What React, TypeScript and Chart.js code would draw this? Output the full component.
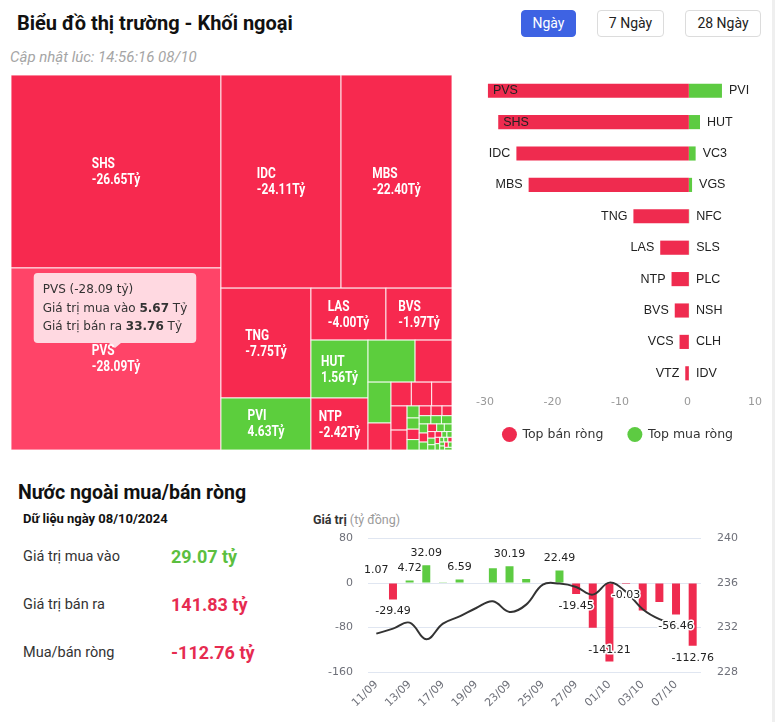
import React, { useEffect, useRef } from 'react';
import { Chart, registerables } from 'chart.js';

Chart.register(...registerables);

// ================= DATA =================
// Treemap: ticker, net value (tỷ), cell size (estimated total traded value, tỷ)
const tmTickers = ['SHS', 'PVS', 'IDC', 'MBS', 'TNG', 'PVI', 'LAS', 'BVS', 'HUT', 'NTP', 'VC3', 'VCS', 'VGS', 'VTZ', '', '', '', '', '',
  '', '', '', '', '', '', '', '', '', '', '', '', '', '', '', '', '', '', '', '', '', '', '', '', '', '', '', '', '', '', '', ''];
const tmNet = [-26.65, -28.09, -24.11, -22.40, -7.75, 4.63, -4.00, -1.97, 1.56, -2.42, 0.95, -1.30, 0.45, -0.55, -0.45, -0.42, -0.40, -0.35, -0.30,
  0.12, 0.10, -0.09, 0.11, -0.10, -0.08, -0.07, 0.08, 0.07, 0.06, 0.06, -0.05, 0.05, -0.05, 0.04, 0.04, -0.03, 0.04, 0.03, -0.03,
  0.02, 0.02, -0.02, 0.02, 0.01, 0.01, -0.01, 0.01, 0.01, -0.01, 0.01, 0.01];
const tmSize = [41.8, 39.43, 26.4, 24.4, 10.2, 4.83, 4.02, 3.54, 3.41, 3.06, 2.04, 1.60, 0.97, 0.64, 0.50, 0.50, 0.50, 0.40, 0.33,
  0.15, 0.14, 0.13, 0.13, 0.12, 0.11, 0.10, 0.10, 0.09, 0.09, 0.08, 0.08, 0.07, 0.07, 0.06, 0.06, 0.05, 0.05, 0.04, 0.04,
  0.03, 0.03, 0.03, 0.03, 0.02, 0.02, 0.02, 0.02, 0.02, 0.02, 0.02, 0.02];
const tmHoverTicker = 'PVS';
const tooltipBuy = 5.67;
const tooltipSell = 33.76;

// Top net sell / net buy
const sellTickers = ['PVS', 'SHS', 'IDC', 'MBS', 'TNG', 'LAS', 'NTP', 'BVS', 'VCS', 'VTZ'];
const sellValues = [-28.09, -26.65, -24.11, -22.40, -7.75, -4.00, -2.42, -1.97, -1.30, -0.50];
const buyTickers = ['PVI', 'HUT', 'VC3', 'VGS', 'NFC', 'SLS', 'PLC', 'NSH', 'CLH', 'IDV'];
const buyValues = [4.63, 1.56, 0.95, 0.45, 0.05, 0.04, 0.03, 0.03, 0.02, 0.02];
const topAxisMin = -30;
const topAxisMax = 10;
const topAxisStep = 10;

// Foreign net flow by day
const dates = ['11/09', '12/09', '13/09', '16/09', '17/09', '18/09', '19/09', '20/09', '23/09', '24/09',
  '25/09', '26/09', '27/09', '30/09', '01/10', '02/10', '03/10', '04/10', '07/10', '08/10'];
const netFlow = [1.07, -29.49, 4.72, 32.09, 1.5, 6.59, 1.2, 26.5, 30.19, 7.2,
  1.0, 22.49, -19.45, -80.4, -141.21, -0.03, -49.2, -34.2, -56.46, -112.76];
const indexLine = [231.45, 231.9, 232.44, 230.94, 232.35, 233.0, 233.76, 234.36, 233.4, 234.06,
  235.86, 235.95, 235.65, 234.96, 236.04, 235.2, 233.64, 232.75, 232.3, null];
const leftTicks = { min: -160, max: 80, step: 80 };
const rightTicks = { min: 228, max: 240, step: 4 };

const statDate = '08/10/2024';
const statBuy = 29.07;
const statSell = 141.83;
const statNet = -112.76;

// ================= STYLE =================
const RED_TM = '#F7294F';
const RED_HOVER = '#FF4468';
const GREEN_TM = '#5CCE3D';
const RED_BAR = '#EF2B4F';
const GREEN_BAR = '#5DCB42';
const UI_FONT = 'Roboto, "Noto Sans", Arial, sans-serif';
const CHART_FONT = '"DejaVu Sans", Verdana, sans-serif';

type Item = { idx: number; area: number };
type Rect = { idx: number; x: number; y: number; w: number; h: number };

function squarify(items: Item[], x0: number, y0: number, w0: number, h0: number): Rect[] {
  const out: Rect[] = [];
  let x = x0, y = y0, w = w0, h = h0;
  const worst = (row: Item[], s: number) => {
    let sum = 0, mx = 0, mn = Infinity;
    for (const r of row) { sum += r.area; mx = Math.max(mx, r.area); mn = Math.min(mn, r.area); }
    const s2 = s * s, sum2 = sum * sum;
    return Math.max((s2 * mx) / sum2, sum2 / (s2 * mn));
  };
  let i = 0;
  while (i < items.length) {
    const s = Math.min(w, h);
    let row = [items[i]];
    let wv = worst(row, s);
    let j = i + 1;
    while (j < items.length) {
      const c = row.concat([items[j]]);
      const cw = worst(c, s);
      if (cw > wv) break;
      row = c; wv = cw; j++;
    }
    const sum = row.reduce((a, r) => a + r.area, 0);
    if (w >= h) {
      const cw = sum / h;
      let cy = y;
      for (const r of row) { const rh = r.area / cw; out.push({ idx: r.idx, x, y: cy, w: cw, h: rh }); cy += rh; }
      x += cw; w -= cw;
    } else {
      const rh = sum / w;
      let cx = x;
      for (const r of row) { const rw = r.area / rh; out.push({ idx: r.idx, x: cx, y, w: rw, h: rh }); cx += rw; }
      y += rh; h -= rh;
    }
    i = j;
  }
  return out;
}

const treemapPlugin = {
  id: 'treemapCells',
  afterDatasetsDraw(chart: any) {
    const { ctx, chartArea: a, scales } = chart;
    const xs = scales.x, ys = scales.y;
    const W = a.right - a.left, H = a.bottom - a.top;
    const total = tmSize.reduce((s, v) => s + v, 0);
    const items = tmSize.map((v, i) => ({ idx: i, area: (v / total) * W * H })).sort((p, q) => q.area - p.area);
    const rects = squarify(items, 0, 0, W, H);
    ctx.save();
    let hover: any = null;
    const SX = 0.85;
    for (const r of rects) {
      const px0 = xs.getPixelForValue(r.x / W), px1 = xs.getPixelForValue((r.x + r.w) / W);
      const py0 = ys.getPixelForValue(r.y / H), py1 = ys.getPixelForValue((r.y + r.h) / H);
      const net = tmNet[r.idx];
      const t = tmTickers[r.idx];
      ctx.fillStyle = net >= 0 ? GREEN_TM : (t === tmHoverTicker ? RED_HOVER : RED_TM);
      ctx.fillRect(px0, py0, px1 - px0, py1 - py0);
      ctx.strokeStyle = 'rgba(255,255,255,0.85)';
      ctx.lineWidth = 1;
      ctx.strokeRect(px0, py0, px1 - px0, py1 - py0);
      const cw = px1 - px0, ch = py1 - py0;
      if (t === tmHoverTicker) hover = { cx: (px0 + px1) / 2, cy: (py0 + py1) / 2 };
      if (cw > 50 && ch > 45 && t) {
        ctx.font = `bold 14px ${UI_FONT}`;
        ctx.fillStyle = '#ffffff';
        ctx.textBaseline = 'middle';
        ctx.textAlign = 'left';
        const v = net.toFixed(2) + 'Tỷ';
        const bw = Math.max(ctx.measureText(t).width, ctx.measureText(v).width) * SX;
        const lx = (px0 + px1) / 2 - bw / 2;
        const cy = (py0 + py1) / 2;
        ctx.save();
        ctx.translate(lx, cy);
        ctx.scale(SX, 1);
        ctx.fillText(t, 0, -7);
        ctx.fillText(v, 0, 9);
        ctx.restore();
      }
    }
    if (hover) {
      const idx = tmTickers.indexOf(tmHoverTicker);
      const fontN = `12px ${CHART_FONT}`;
      const fontB = `bold 12px ${CHART_FONT}`;
      const lines: [string, string, string][] = [
        [`${tmHoverTicker} (${tmNet[idx].toFixed(2)} tỷ)`, '', ''],
        ['Giá trị mua vào ', tooltipBuy.toFixed(2), ' Tỷ'],
        ['Giá trị bán ra ', tooltipSell.toFixed(2), ' Tỷ'],
      ];
      let maxW = 0;
      for (const l of lines) {
        ctx.font = fontN; let w = ctx.measureText(l[0]).width + ctx.measureText(l[2]).width;
        ctx.font = fontB; w += ctx.measureText(l[1]).width;
        maxW = Math.max(maxW, w);
      }
      const tipX = hover.cx - 1, tipY = hover.cy - 11;
      const bw = maxW + 18, bh = 70;
      const bx = tipX - bw / 2, by = tipY - 5 - bh;
      const rr = 4;
      ctx.beginPath();
      ctx.moveTo(bx + rr, by);
      ctx.lineTo(bx + bw - rr, by);
      ctx.quadraticCurveTo(bx + bw, by, bx + bw, by + rr);
      ctx.lineTo(bx + bw, by + bh - rr);
      ctx.quadraticCurveTo(bx + bw, by + bh, bx + bw - rr, by + bh);
      ctx.lineTo(tipX + 6, by + bh);
      ctx.lineTo(tipX, tipY);
      ctx.lineTo(tipX - 6, by + bh);
      ctx.lineTo(bx + rr, by + bh);
      ctx.quadraticCurveTo(bx, by + bh, bx, by + bh - rr);
      ctx.lineTo(bx, by + rr);
      ctx.quadraticCurveTo(bx, by, bx + rr, by);
      ctx.closePath();
      ctx.fillStyle = 'rgba(255,255,255,0.8)';
      ctx.fill();
      ctx.fillStyle = '#333';
      ctx.textBaseline = 'middle';
      ctx.textAlign = 'left';
      const ys2 = [17, 35.5, 53.5];
      lines.forEach((l, k) => {
        let x = bx + 9;
        const y = by + ys2[k];
        ctx.font = fontN; ctx.fillText(l[0], x, y); x += ctx.measureText(l[0]).width;
        ctx.font = fontB; ctx.fillText(l[1], x, y); x += ctx.measureText(l[1]).width;
        ctx.font = fontN; ctx.fillText(l[2], x, y);
      });
    }
    ctx.restore();
  },
};

const hbarLabelPlugin = {
  id: 'hbarLabels',
  afterDatasetsDraw(chart: any) {
    const { ctx, chartArea } = chart;
    const m0 = chart.getDatasetMeta(0), m1 = chart.getDatasetMeta(1);
    const zeroX = chart.scales.xb.getPixelForValue(0);
    ctx.save();
    ctx.font = '12.5px "Liberation Sans", Arial, sans-serif';
    ctx.fillStyle = '#222';
    ctx.textBaseline = 'middle';
    ctx.textAlign = 'left';
    m0.data.forEach((bar: any, i: number) => {
      const t = sellTickers[i];
      const tw = ctx.measureText(t).width;
      let x = bar.x - 6 - tw;
      if (x < chartArea.left) x = bar.x + 5;
      ctx.fillText(t, x, bar.y);
    });
    m1.data.forEach((bar: any, i: number) => {
      ctx.fillText(buyTickers[i], Math.max(bar.x, zeroX) + 7, bar.y);
    });

    // legend (from dataset labels / colours)
    ctx.font = `12.5px ${CHART_FONT}`;
    const ds = chart.data.datasets;
    const R = 7.5, gapText = 13, gapItem = 24;
    const widths = ds.map((d: any) => gapText + ctx.measureText(d.label).width + R);
    const totalW = widths.reduce((s: number, w: number) => s + w, 0) + gapItem * (ds.length - 1);
    let x = chart.width / 2 - totalW / 2;
    const y = chartArea.bottom + 45.5;
    ds.forEach((d: any, i: number) => {
      ctx.beginPath();
      ctx.arc(x + R, y, R, 0, Math.PI * 2);
      ctx.fillStyle = d.backgroundColor;
      ctx.fill();
      ctx.fillStyle = '#333';
      ctx.fillText(d.label, x + R + gapText, y + 0.5);
      x += widths[i] + gapItem;
    });
    ctx.restore();
  },
};

const flowLabelPlugin = {
  id: 'flowLabels',
  afterDatasetsDraw(chart: any) {
    const { ctx, chartArea: area } = chart;
    const meta = chart.getDatasetMeta(1);
    ctx.save();
    ctx.font = `11px ${CHART_FONT}`;
    const labels = meta.data.map((bar: any, i: number) => {
      const v = netFlow[i];
      const text = v.toFixed(2);
      const w = ctx.measureText(text).width;
      let y = v >= 0 ? bar.y - 12 : bar.y + 12;
      if (v < 0 && y + 7 > area.bottom) y = bar.y - 11;
      return { text, x: bar.x, y, w, abs: Math.abs(v) };
    });
    const order = labels.slice().sort((a: any, b: any) => b.abs - a.abs);
    const shown: any[] = [];
    for (const l of order) {
      const box = [l.x - l.w / 2 - 1, l.y - 7, l.x + l.w / 2 + 1, l.y + 7];
      const hit = shown.some((s) => !(box[2] <= s.box[0] || box[0] >= s.box[2] || box[3] <= s.box[1] || box[1] >= s.box[3]));
      if (!hit) shown.push({ ...l, box });
    }
    ctx.textAlign = 'center';
    ctx.textBaseline = 'middle';
    ctx.lineJoin = 'round';
    for (const l of shown) {
      ctx.strokeStyle = '#ffffff';
      ctx.lineWidth = 3;
      ctx.strokeText(l.text, l.x, l.y);
      ctx.fillStyle = '#222';
      ctx.fillText(l.text, l.x, l.y);
    }
    ctx.restore();
  },
};

const abs = (l: number, t: number, extra: React.CSSProperties = {}): React.CSSProperties => ({
  position: 'absolute', left: l, top: t, whiteSpace: 'nowrap', ...extra,
});

export default function App() {
  const tmRef = useRef<HTMLCanvasElement>(null);
  const hbRef = useRef<HTMLCanvasElement>(null);
  const flowRef = useRef<HTMLCanvasElement>(null);

  useEffect(() => {
    Chart.defaults.font.family = CHART_FONT;
    const charts: Chart[] = [];

    charts.push(new Chart(tmRef.current!, {
      type: 'scatter',
      data: { datasets: [{ data: [] }] },
      options: {
        animation: false,
        responsive: false,
        layout: { padding: 0 },
        plugins: { legend: { display: false }, tooltip: { enabled: false } },
        scales: {
          x: { type: 'linear', min: 0, max: 1, display: false },
          y: { type: 'linear', min: 0, max: 1, display: false, reverse: true },
        },
      },
      plugins: [treemapPlugin],
    } as any));

    charts.push(new Chart(hbRef.current!, {
      type: 'bar',
      data: {
        labels: sellTickers.map((s, i) => `${s}/${buyTickers[i]}`),
        datasets: [
          { label: 'Top bán ròng', data: sellValues, backgroundColor: RED_BAR, xAxisID: 'xb', barPercentage: 0.45, categoryPercentage: 1 },
          { label: 'Top mua ròng', data: buyValues, backgroundColor: GREEN_BAR, xAxisID: 'xb', barPercentage: 0.45, categoryPercentage: 1 },
        ],
      },
      options: {
        indexAxis: 'y',
        animation: false,
        responsive: false,
        layout: { padding: { left: 25, right: 20, top: 0, bottom: 0 } },
        plugins: {
          legend: { display: false },
          tooltip: { enabled: false },
        },
        scales: {
          y: { stacked: true, display: false },
          xb: { type: 'linear', min: -28.5, max: 9.25, stacked: true, display: false },
          x: {
            type: 'linear', position: 'bottom', min: topAxisMin, max: topAxisMax,
            ticks: { stepSize: topAxisStep, color: '#999', padding: 7, font: { size: 11, family: CHART_FONT } },
            grid: { display: false, drawTicks: false },
            border: { display: false },
            afterFit: (s: any) => { s.height = 62; },
          },
        },
      },
      plugins: [hbarLabelPlugin],
    } as any));

    charts.push(new Chart(flowRef.current!, {
      type: 'bar',
      data: {
        labels: dates,
        datasets: [
          {
            type: 'line', data: indexLine, yAxisID: 'y1', borderColor: '#333', borderWidth: 2,
            pointRadius: 0, tension: 0.4, order: 0, spanGaps: false,
          },
          {
            type: 'bar', data: netFlow, yAxisID: 'y',
            backgroundColor: netFlow.map((v) => (v >= 0 ? GREEN_BAR : RED_BAR)),
            barPercentage: 0.48, categoryPercentage: 1, order: 1,
          },
        ],
      },
      options: {
        animation: false,
        responsive: false,
        layout: { padding: { top: 9, left: 0, right: 0, bottom: 0 } },
        plugins: { legend: { display: false }, tooltip: { enabled: false } },
        scales: {
          x: {
            grid: { display: false, drawTicks: false },
            border: { display: false },
            ticks: {
              autoSkip: false, minRotation: 45, maxRotation: 45, padding: 6,
              color: '#6E7079', font: { size: 11, family: CHART_FONT },
              callback: (_v: any, i: number) => (i % 2 === 0 ? dates[i] : ''),
            },
            afterFit: (s: any) => { s.height = 50; },
          },
          y: {
            position: 'left', min: leftTicks.min, max: leftTicks.max,
            ticks: { stepSize: leftTicks.step, color: '#6E7079', padding: 15, font: { size: 11, family: CHART_FONT } },
            grid: { color: '#E0E6F1', drawTicks: false },
            border: { display: false },
            afterFit: (s: any) => { s.width = 68; },
          },
          y1: {
            position: 'right', min: rightTicks.min, max: rightTicks.max,
            ticks: { stepSize: rightTicks.step, color: '#6E7079', padding: 16, font: { size: 11, family: CHART_FONT } },
            grid: { display: false, drawTicks: false },
            border: { display: false },
            afterFit: (s: any) => { s.width = 74; },
          },
        },
      },
      plugins: [flowLabelPlugin],
    } as any));

    return () => charts.forEach((c) => c.destroy());
  }, []);

  const btn = (active: boolean): React.CSSProperties => ({
    boxSizing: 'border-box', height: 27, borderRadius: 4, fontSize: 14, lineHeight: '25px',
    textAlign: 'center', fontFamily: UI_FONT,
    background: active ? '#3E63E3' : '#fff', color: active ? '#fff' : '#222',
    border: active ? '1px solid #3E63E3' : '1px solid #dcdcdc',
  });

  return (
    <div style={{ position: 'absolute', left: 0, top: 0, width: 775, height: 722, background: '#fff', overflow: 'hidden', fontFamily: UI_FONT, color: '#111' }}>
      <div style={abs(17, 10, { fontSize: 20, fontWeight: 700, lineHeight: '26px' })}>Biểu đồ thị trường - Khối ngoại</div>
      <div style={abs(521, 10, { ...btn(true), width: 55 })}>Ngày</div>
      <div style={abs(597, 10, { ...btn(false), width: 67 })}>7 Ngày</div>
      <div style={abs(685, 10, { ...btn(false), width: 76 })}>28 Ngày</div>
      <div style={abs(10, 47, { fontSize: 15, fontStyle: 'italic', color: '#a5a5a5', lineHeight: '20px' })}>Cập nhật lúc: 14:56:16 08/10</div>

      <canvas ref={tmRef} width={441} height={375} style={abs(11, 75, { width: 441, height: 375, display: 'block' })} />
      <canvas ref={hbRef} width={315} height={376} style={abs(460, 75, { width: 315, height: 376, display: 'block' })} />

      <div style={abs(18, 480, { fontSize: 19.5, fontWeight: 700, lineHeight: '25px' })}>Nước ngoài mua/bán ròng</div>
      <div style={abs(23, 510, { fontSize: 13, fontWeight: 700, lineHeight: '17px' })}>Dữ liệu ngày {statDate}</div>

      <div style={abs(23, 547, { fontSize: 14.5, color: '#333', lineHeight: '20px' })}>Giá trị mua vào</div>
      <div style={abs(171, 546, { fontSize: 18, fontWeight: 700, color: '#5CBF3F', lineHeight: '22px' })}>{statBuy.toFixed(2)} tỷ</div>
      <div style={abs(23, 595, { fontSize: 14.5, color: '#333', lineHeight: '20px' })}>Giá trị bán ra</div>
      <div style={abs(171, 594, { fontSize: 18, fontWeight: 700, color: '#E62B50', lineHeight: '22px' })}>{statSell.toFixed(2)} tỷ</div>
      <div style={abs(23, 643, { fontSize: 14.5, color: '#333', lineHeight: '20px' })}>Mua/bán ròng</div>
      <div style={abs(171, 642, { fontSize: 18, fontWeight: 700, color: '#E62B50', lineHeight: '22px' })}>{statNet.toFixed(2)} tỷ</div>

      <div style={abs(313, 512, { fontSize: 12.5, lineHeight: '16px' })}>
        <span style={{ fontWeight: 700, color: '#333' }}>Giá trị</span>
        <span style={{ color: '#9a9a9a' }}> (tỷ đồng)</span>
      </div>
      <canvas ref={flowRef} width={475} height={206} style={abs(300, 516, { width: 475, height: 206, display: 'block' })} />
      <div style={abs(772, 0, { width: 3, height: 722, background: '#efefef' })} />
    </div>
  );
}
